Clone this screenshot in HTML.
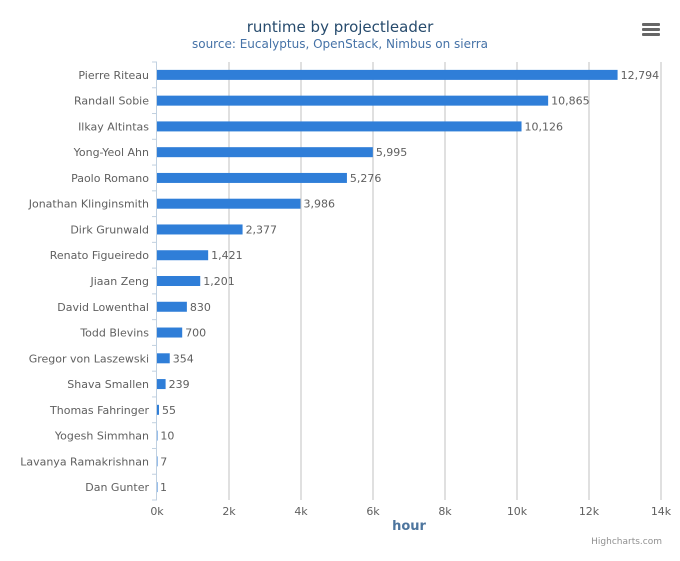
<!DOCTYPE html>
<html><head><meta charset="utf-8"><style>
body{margin:0;background:#fff;font-family:"Liberation Sans","DejaVu Sans",sans-serif}
svg text{font-family:"DejaVu Sans","Liberation Sans",sans-serif}
</style></head><body>
<svg id="c" width="680" height="556" xmlns="http://www.w3.org/2000/svg">
<rect width="680" height="556" fill="#fff"/>
<text x="340" y="32" text-anchor="middle" font-size="15" fill="#274b6d">runtime by projectleader</text>
<text x="340" y="48" text-anchor="middle" font-size="12" fill="#4572a7">source: Eucalyptus, OpenStack, Nimbus on sierra</text>
<g fill="#666">
<rect x="642" y="23" width="18" height="3" rx="1"/><rect x="642" y="28" width="18" height="3" rx="1"/><rect x="642" y="33" width="18" height="3" rx="1"/></g>
<g id="grid"></g><g id="bars"></g><g id="labels"></g>
<text x="409" y="530" text-anchor="middle" font-size="13" font-weight="bold" fill="#4d759e">hour</text>
<text x="662" y="544" text-anchor="end" font-size="9" fill="#909090">Highcharts.com</text>
</svg>
<script>
const categories=["Pierre Riteau","Randall Sobie","Ilkay Altintas","Yong-Yeol Ahn","Paolo Romano","Jonathan Klinginsmith","Dirk Grunwald","Renato Figueiredo","Jiaan Zeng","David Lowenthal","Todd Blevins","Gregor von Laszewski","Shava Smallen","Thomas Fahringer","Yogesh Simmhan","Lavanya Ramakrishnan","Dan Gunter"];
const values=[12794,10865,10126,5995,5276,3986,2377,1421,1201,830,700,354,239,55,10,7,1];
const xTicks=[0,2000,4000,6000,8000,10000,12000,14000];
const xTickLabels=["0k","2k","4k","6k","8k","10k","12k","14k"];
const NS="http://www.w3.org/2000/svg";
const L=157,R=661,T=62,B=500,MAX=14000;
const x=v=>L+v/MAX*(R-L);
const band=(B-T)/categories.length;
const y=i=>T+band*(i+0.5);
function mk(tag,attrs,parent,txt){const e=document.createElementNS(NS,tag);for(const k in attrs)e.setAttribute(k,attrs[k]);if(txt!=null)e.textContent=txt;document.getElementById(parent).appendChild(e);return e;}
xTicks.forEach((t,i)=>{
 if(t>0){const g=mk('line',{x1:x(t),x2:x(t),y1:T,y2:B,stroke:'#c0c0c0','stroke-width':1},'grid');
 
 }
 const l=mk('text',{x:x(t),y:B+15,'text-anchor':'middle','font-size':11,fill:'#606060'},'labels',xTickLabels[i]);
 
 
});
const ax=mk('line',{x1:L-0.5,x2:L-0.5,y1:T,y2:B,stroke:'#c0d0e0','stroke-width':1},'grid');


for(let i=0;i<=categories.length;i++){const tk=mk('line',{x1:L-5,x2:L,y1:T+band*i,y2:T+band*i,stroke:'#c0d0e0'},'grid');
 
 }
categories.forEach((c,i)=>{
 const w=Math.max(x(values[i])-L,0.5);
 const b=mk('rect',{x:L,y:y(i)-5,width:w,height:10,fill:'#2f7ed8'},'bars');
 
 
 const cl=mk('text',{x:L-8,y:y(i)+4,'text-anchor':'end','font-size':11,fill:'#606060'},'labels',c);
 
 
 const vl=mk('text',{x:x(values[i])+3,y:y(i)+4,'font-size':11,fill:'#606060'},'labels',values[i].toLocaleString('en-US'));
 
 
});
</script>
</body></html>
